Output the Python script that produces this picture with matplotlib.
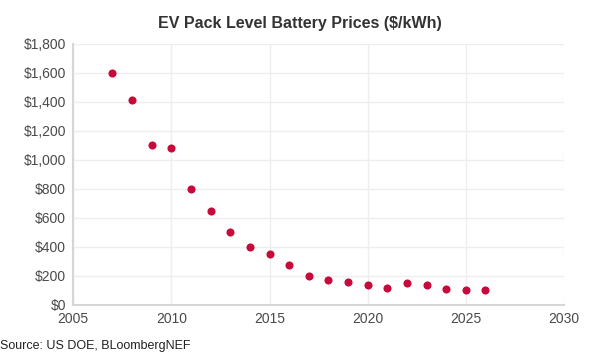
import matplotlib.pyplot as plt
from matplotlib.ticker import FuncFormatter

plt.rcParams['font.family'] = ['Liberation Sans', 'DejaVu Sans']

years = [2007, 2008, 2009, 2010, 2011, 2012, 2013, 2014, 2015, 2016,
         2017, 2018, 2019, 2020, 2021, 2022, 2023, 2024, 2025, 2026]
prices = [1600, 1410, 1100, 1080, 800, 650, 500, 400, 350, 272,
          197, 175, 155, 138, 118, 150, 139, 112, 104, 102]

fig = plt.figure(figsize=(6, 3.6), dpi=100)
ax = fig.add_axes([0.122, 0.153, 0.818, 0.725])

ax.scatter(years, prices, s=34, color='#c8093b', zorder=3, linewidths=0)

ax.set_xlim(2005, 2030)
ax.set_ylim(0, 1800)
ax.set_xticks(range(2005, 2031, 5))
ax.set_yticks(range(0, 1801, 200))
ax.yaxis.set_major_formatter(FuncFormatter(lambda v, p: '${:,.0f}'.format(v)))

ax.grid(True, color='#eeeeee', linewidth=1)
ax.set_axisbelow(True)
for side in ['top', 'right']:
    ax.spines[side].set_visible(False)
for side in ['left', 'bottom']:
    ax.spines[side].set_color('#d6d6d6')
    ax.spines[side].set_linewidth(1.5)
ax.tick_params(length=0, labelsize=10, colors='#4a4a4a', pad=5)

fig.text(0.5, 0.935, 'EV Pack Level Battery Prices ($/kWh)', ha='center', va='center',
         fontsize=11.5, color='#333333', fontweight='bold')
fig.text(0.0, 0.04, 'Source: US DOE, BLoombergNEF', ha='left', va='center',
         fontsize=9, color='#222222')

plt.savefig('out.png')
